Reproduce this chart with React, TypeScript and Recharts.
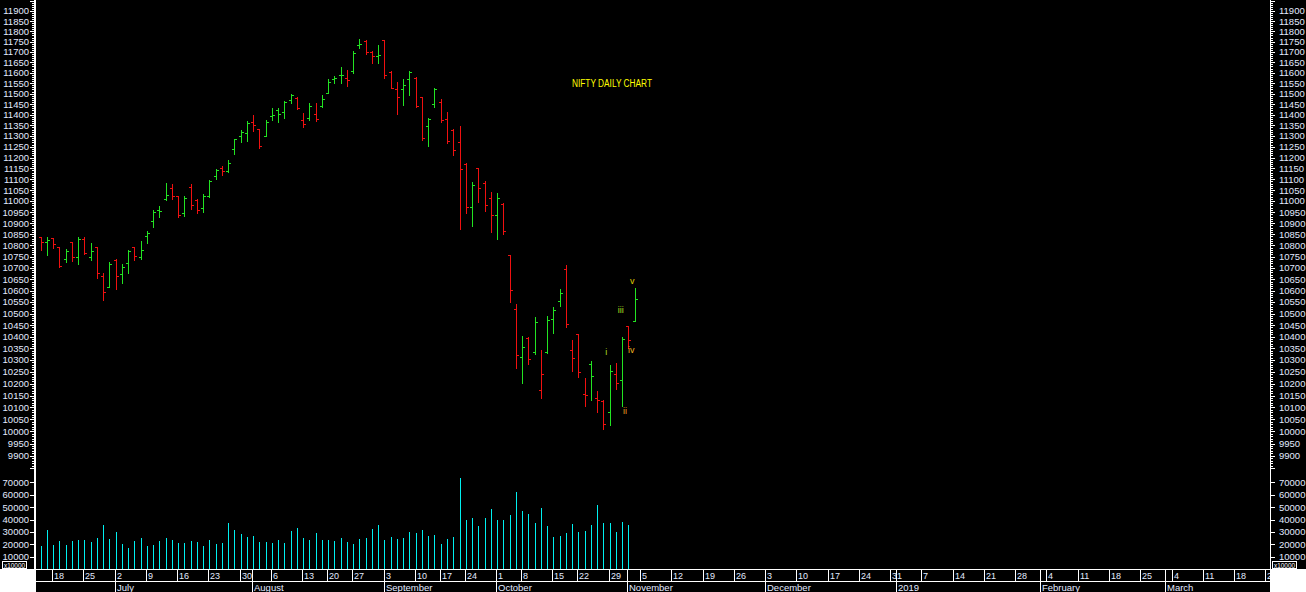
import { ComposedChart, BarChart, Bar, XAxis, YAxis, ReferenceDot } from "recharts";

const GREEN = "#22e322";
const RED = "#f01010";
const CYAN = "#00f0f0";
const INK = "#e2eaff";
const FONT = "'Liberation Sans', Arial, sans-serif";

// trading calendar: NSE holidays inside the traded part, future part is plain weekdays
const HOLIDAYS = ["2018-08-15", "2018-08-22", "2018-09-13", "2018-09-20", "2018-10-02", "2018-10-18"];
const FIRST_DAY = "2018-06-14";
const LAST_TRADED = "2018-11-02";
const AXIS_END = "2019-03-25";
const MONTHS = ["January", "February", "March", "April", "May", "June", "July", "August", "September", "October", "November", "December"];

const PREV_CLOSE = 10856;
const OPEN = [
  10836, 10814, 10832, 10792, 10739, 10814, 10748, 10828, 10748, 10792,
  10663, 10615, 10734, 10672, 10720, 10792, 10748, 10841, 10909, 10959,
  11009, 11059, 11022, 10944, 11063, 11004, 10968, 11022, 11114, 11151,
  11137, 11238, 11299, 11313, 11366, 11334, 11300, 11394, 11422, 11414,
  11472, 11479, 11376, 11386, 11404, 11441, 11505, 11572, 11588, 11573,
  11610, 11735, 11752, 11698, 11679, 11757, 11603, 11523, 11523, 11568,
  11573, 11484, 11345, 11451, 11462, 11381, 11326, 11272, 11169, 10972,
  11151, 11081, 11013, 10936, 10986, 10756, 10519, 10312, 10394, 10334,
  10173, 10334, 10476, 10554, 10694, 10342, 10411, 10156, 10282, 10139,
  10126, 10080, 10239, 10214, 10445, 10467,
];
const HIGH = [
  10836, 10836, 10832, 10792, 10783, 10814, 10836, 10836, 10811, 10792,
  10676, 10725, 10739, 10716, 10779, 10792, 10819, 10864, 10959, 10977,
  11083, 11077, 11022, 11022, 11077, 11009, 11031, 11095, 11146, 11160,
  11188, 11285, 11327, 11369, 11399, 11334, 11375, 11431, 11431, 11466,
  11500, 11484, 11407, 11456, 11456, 11495, 11568, 11583, 11628, 11613,
  11703, 11763, 11757, 11703, 11733, 11757, 11608, 11553, 11568, 11608,
  11578, 11484, 11383, 11528, 11475, 11411, 11333, 11346, 11174, 11086,
  11151, 11090, 11040, 11036, 10990, 10756, 10541, 10402, 10398, 10483,
  10342, 10491, 10528, 10606, 10712, 10385, 10411, 10223, 10295, 10168,
  10130, 10278, 10287, 10398, 10445, 10611,
];
const LOW = [
  10780, 10758, 10790, 10706, 10728, 10731, 10716, 10761, 10736, 10657,
  10561, 10615, 10607, 10635, 10679, 10734, 10740, 10813, 10884, 10929,
  11004, 11009, 10929, 10933, 10964, 10944, 10952, 11018, 11100, 11118,
  11132, 11215, 11271, 11276, 11325, 11243, 11300, 11375, 11367, 11386,
  11457, 11425, 11343, 11375, 11372, 11437, 11505, 11549, 11552, 11537,
  11600, 11717, 11688, 11648, 11645, 11573, 11525, 11402, 11446, 11494,
  11437, 11281, 11254, 11435, 11366, 11268, 11210, 10875, 10948, 10889,
  10998, 10957, 10858, 10827, 10849, 10552, 10268, 10204, 10285, 10325,
  10141, 10329, 10415, 10531, 10441, 10255, 10226, 10104, 10133, 10083,
  10010, 10025, 10179, 10108, 10351, 10467,
];
const CLOSE = [
  10814, 10824, 10805, 10710, 10774, 10748, 10828, 10765, 10774, 10676,
  10593, 10716, 10663, 10703, 10774, 10752, 10779, 10855, 10950, 10954,
  11027, 11022, 10939, 11013, 10982, 10959, 11022, 11092, 11141, 11137,
  11174, 11285, 11318, 11360, 11350, 11252, 11366, 11400, 11402, 11459,
  11495, 11434, 11357, 11443, 11381, 11474, 11557, 11573, 11588, 11563,
  11693, 11740, 11698, 11679, 11684, 11588, 11525, 11484, 11543, 11603,
  11441, 11289, 11379, 11523, 11377, 11278, 11234, 11146, 10972, 11072,
  11059, 10982, 10936, 11013, 10864, 10602, 10321, 10355, 10303, 10462,
  10240, 10474, 10515, 10589, 10454, 10308, 10248, 10152, 10232, 10130,
  10030, 10253, 10202, 10389, 10385, 10562,
];
const VOLUME = [
  18700, 31800, 19500, 22700, 19500, 22700, 23500, 23500, 21900, 25100,
  35600, 24300, 29900, 20300, 17000, 22700, 25100, 18700, 19500, 22700,
  25100, 23500, 21100, 21100, 22700, 21900, 18700, 23500, 20300, 21100,
  37200, 31600, 28400, 26000, 26800, 21900, 21900, 21100, 23500, 21100,
  30800, 33200, 25200, 23500, 29200, 23500, 23500, 22700, 25200, 21900,
  20300, 24300, 25200, 32400, 35600, 23500, 26000, 24300, 25200, 30000,
  29200, 31600, 26800, 27600, 20300, 24300, 26000, 73600, 39700, 41300,
  34800, 41300, 48500, 39700, 39700, 43700, 62300, 46900, 44500, 37200,
  49400, 34800, 26000, 26800, 29200, 36400, 30000, 30800, 35600, 51700,
  37200, 37200, 30000, 38000, 35600, null,
];

const PRICE_MIN = 9842;
const PRICE_MAX = 11954;
const PRICE_TICKS: number[] = [];
for (let v = 9850; v <= 11950; v += 10) PRICE_TICKS.push(v);
const VOL_TICKS = [10000, 20000, 30000, 40000, 50000, 60000, 70000];

const WAVE_TEXT = ["i", "ii", "iii", "iv", "v"];
const WAVE_DAY = ["2018-10-29", "2018-11-01", "2018-10-31", "2018-11-02", "2018-11-02"];
const WAVE_PRICE = [10335, 10084, 10514, 10345, 10645];
const WAVE_DX = [-3, -3, -1, -3, -2];
const WAVE_COLOR = ["#a8d820", "#f0a020", "#a8d820", "#f0b020", "#e0d000"];

function buildDays() {
  const out: string[] = [];
  const t = new Date(FIRST_DAY + "T00:00:00Z");
  const end = new Date(AXIS_END + "T00:00:00Z");
  while (t <= end) {
    const wd = t.getUTCDay();
    const iso = t.toISOString().slice(0, 10);
    const holiday = iso <= LAST_TRADED && HOLIDAYS.includes(iso);
    if (wd !== 0 && wd !== 6 && !holiday) out.push(iso);
    t.setUTCDate(t.getUTCDate() + 1);
  }
  return out;
}

const DAYS = buildDays();
const DAY_INDEX: Record<string, number> = {};
DAYS.forEach((d, i) => (DAY_INDEX[d] = i));

const rows = DAYS.map((d, i) => ({
  d,
  o: OPEN[i] ?? null,
  h: HIGH[i] ?? null,
  l: LOW[i] ?? null,
  c: CLOSE[i] ?? null,
  v: VOLUME[i] ?? null,
  up: i < CLOSE.length ? CLOSE[i] >= (i === 0 ? PREV_CLOSE : CLOSE[i - 1]) : false,
}));

function OhlcShape(props: any) {
  const { x, y, width, height, payload } = props;
  if (!payload || payload.h == null) return null;
  const top = Math.min(y, y + height);
  const bot = Math.max(y, y + height);
  const cx = Math.round(x + width / 2);
  const lh = Math.log(payload.h);
  const span = lh - Math.log(payload.l);
  const at = (v: number) => (span > 0 ? top + ((bot - top) * (lh - Math.log(v))) / span : top);
  const yo = Math.round(at(payload.o));
  const yc = Math.round(at(payload.c));
  const t = Math.round(top);
  const b = Math.round(bot);
  return (
    <g fill={payload.up ? GREEN : RED}>
      <rect x={cx} y={t} width={1} height={Math.max(1, b - t + 1)} />
      <rect x={cx - 2} y={yo} width={2} height={1} />
      <rect x={cx + 1} y={yc} width={2} height={1} />
    </g>
  );
}

function VolShape(props: any) {
  const { x, y, width, height, payload } = props;
  if (!payload || payload.v == null) return null;
  const cx = Math.round(x + width / 2);
  const t = Math.round(y);
  return <rect x={cx} y={t} width={1} height={Math.max(0, Math.round(y + height) - t)} fill={CYAN} />;
}

function PriceTick(props: any) {
  const { x, y, payload, side } = props;
  const v = payload.value;
  const major = v % 50 === 0;
  const yy = Math.round(y);
  const len = major ? 4 : 2;
  const labelled = major && v >= 9900 && v <= 11900;
  if (side === "left") {
    return (
      <g>
        <rect x={x - 3 - len} y={yy} width={len} height={1} fill="#fff" />
        {labelled && (
          <text x={x - 8} y={y} dy="0.36em" textAnchor="end" fontSize={9.5} fontFamily={FONT} fill={INK}>
            {v}
          </text>
        )}
      </g>
    );
  }
  return (
    <g>
      <rect x={x + 2} y={yy} width={len} height={1} fill="#fff" />
      {labelled && (
        <text x={x + 10} y={y} dy="0.36em" textAnchor="start" fontSize={9.5} fontFamily={FONT} fill={INK}>
          {v}
        </text>
      )}
    </g>
  );
}

function VolTick(props: any) {
  const { x, y, payload, side } = props;
  const v = payload.value;
  const yy = Math.round(y);
  if (side === "left") {
    return (
      <g>
        <rect x={x - 7} y={yy} width={4} height={1} fill="#fff" />
        <text x={x - 8} y={y} dy="0.36em" textAnchor="end" fontSize={9.5} fontFamily={FONT} fill={INK}>
          {v}
        </text>
      </g>
    );
  }
  return (
    <g>
      <rect x={x + 2} y={yy} width={4} height={1} fill="#fff" />
      <text x={x + 10} y={y} dy="0.36em" textAnchor="start" fontSize={9.5} fontFamily={FONT} fill={INK}>
        {v}
      </text>
    </g>
  );
}

function DateTick(props: any) {
  const { x, y, payload } = props;
  const i = DAY_INDEX[payload.value];
  if (i == null) return <g />;
  const iso = DAYS[i];
  const dt = new Date(iso + "T00:00:00Z");
  const monday = dt.getUTCDay() === 1;
  const monthStart = i > 0 && DAYS[i - 1].slice(5, 7) !== iso.slice(5, 7);
  if (!monday && !monthStart) return <g />;
  const sx = Math.floor(x);
  const m = dt.getUTCMonth();
  return (
    <g fontFamily={FONT} fill={INK}>
      <rect x={sx} y={y} width={1} height={12} fill="#fff" />
      {monday && (
        <text x={sx + 2} y={y + 10} fontSize={9}>
          {dt.getUTCDate()}
        </text>
      )}
      {monthStart && <rect x={sx} y={y + 12} width={1} height={11} fill="#fff" />}
      {monthStart && (
        <text x={sx + 2} y={y + 21.5} fontSize={9.5}>
          {m === 0 ? dt.getUTCFullYear() : MONTHS[m]}
        </text>
      )}
    </g>
  );
}

export default function App() {
  return (
    <div style={{ position: "absolute", left: 0, top: 0, width: 1306, height: 592, background: "#000", overflow: "hidden" }}>
      <div style={{ position: "absolute", left: 0, top: 0 }}>
        <ComposedChart width={1306} height={470} data={rows} margin={{ top: 0, right: 0, bottom: 0, left: 0 }}>
          <XAxis dataKey="d" hide />
          <YAxis
            yAxisId="p"
            orientation="left"
            width={37}
            scale="log"
            domain={[PRICE_MIN, PRICE_MAX]}
            ticks={PRICE_TICKS}
            interval={0}
            allowDataOverflow
            axisLine={false}
            tickLine={false}
            tickSize={0}
            tickMargin={0}
            tick={(p: any) => <PriceTick {...p} side="left" />}
          />
          <YAxis
            yAxisId="p2"
            orientation="right"
            width={37}
            scale="log"
            domain={[PRICE_MIN, PRICE_MAX]}
            ticks={PRICE_TICKS}
            interval={0}
            allowDataOverflow
            axisLine={false}
            tickLine={false}
            tickSize={0}
            tickMargin={0}
            tick={(p: any) => <PriceTick {...p} side="right" />}
          />
          <Bar
            yAxisId="p"
            dataKey={(r: any) => (r.h == null ? null : [r.l, r.h])}
            barSize={1}
            shape={OhlcShape}
            isAnimationActive={false}
          />
          {WAVE_TEXT.map((t, i) => (
            <ReferenceDot
              key={t}
              yAxisId="p"
              x={WAVE_DAY[i]}
              y={WAVE_PRICE[i]}
              r={0}
              shape={(p: any) => (
                <text
                  x={p.cx + WAVE_DX[i]}
                  y={p.cy}
                  dy="0.35em"
                  textAnchor="middle"
                  fontSize={9}
                  fontFamily={FONT}
                  fill={WAVE_COLOR[i]}
                >
                  {t}
                </text>
              )}
            />
          ))}
        </ComposedChart>
      </div>
      <div style={{ position: "absolute", left: 0, top: 470 }}>
        <BarChart width={1306} height={122} data={rows} margin={{ top: 0, right: 0, bottom: 0, left: 0 }}>
          <XAxis
            dataKey="d"
            height={23}
            interval={0}
            axisLine={false}
            tickLine={false}
            tickSize={0}
            tickMargin={0}
            tick={DateTick}
          />
          <YAxis
            yAxisId="v"
            orientation="left"
            width={37}
            domain={[0, 80000]}
            ticks={VOL_TICKS}
            interval={0}
            allowDataOverflow
            axisLine={false}
            tickLine={false}
            tickSize={0}
            tickMargin={0}
            tick={(p: any) => <VolTick {...p} side="left" />}
          />
          <YAxis
            yAxisId="v2"
            orientation="right"
            width={37}
            domain={[0, 80000]}
            ticks={VOL_TICKS}
            interval={0}
            allowDataOverflow
            axisLine={false}
            tickLine={false}
            tickSize={0}
            tickMargin={0}
            tick={(p: any) => <VolTick {...p} side="right" />}
          />
          <Bar yAxisId="v" dataKey="v" barSize={1} fill={CYAN} shape={VolShape} isAnimationActive={false} />
        </BarChart>
      </div>
      <svg width={1306} height={592} style={{ position: "absolute", left: 0, top: 0, pointerEvents: "none" }}>
        <rect x={34} y={0} width={2} height={569} fill="#fff" />
        <rect x={1270} y={0} width={1} height={569} fill="#fff" />
        <rect x={34} y={569} width={1238} height={1} fill="#fff" />
        <rect x={36} y={581} width={1234} height={1} fill="#fff" />
        <rect x={0} y={569} width={36} height={23} fill="#fff" />
        <rect x={1270} y={569} width={36} height={23} fill="#fff" />
        <rect x={2.5} y={561.5} width={24} height={7} fill="#000" stroke="#fff" strokeWidth={1} />
        <text x={4} y={567.5} fontSize={6.5} fontFamily={FONT} fill="#fff" textLength={21} lengthAdjust="spacingAndGlyphs">
          x10000
        </text>
        <rect x={1272.5} y={561.5} width={24} height={7} fill="#000" stroke="#fff" strokeWidth={1} />
        <text x={1274} y={567.5} fontSize={6.5} fontFamily={FONT} fill="#fff" textLength={21} lengthAdjust="spacingAndGlyphs">
          x10000
        </text>
        <text x={572} y={86.5} fontSize={10} fontFamily={FONT} fill="#ffff00" textLength={80} lengthAdjust="spacingAndGlyphs">
          NIFTY DAILY CHART
        </text>
      </svg>
    </div>
  );
}
